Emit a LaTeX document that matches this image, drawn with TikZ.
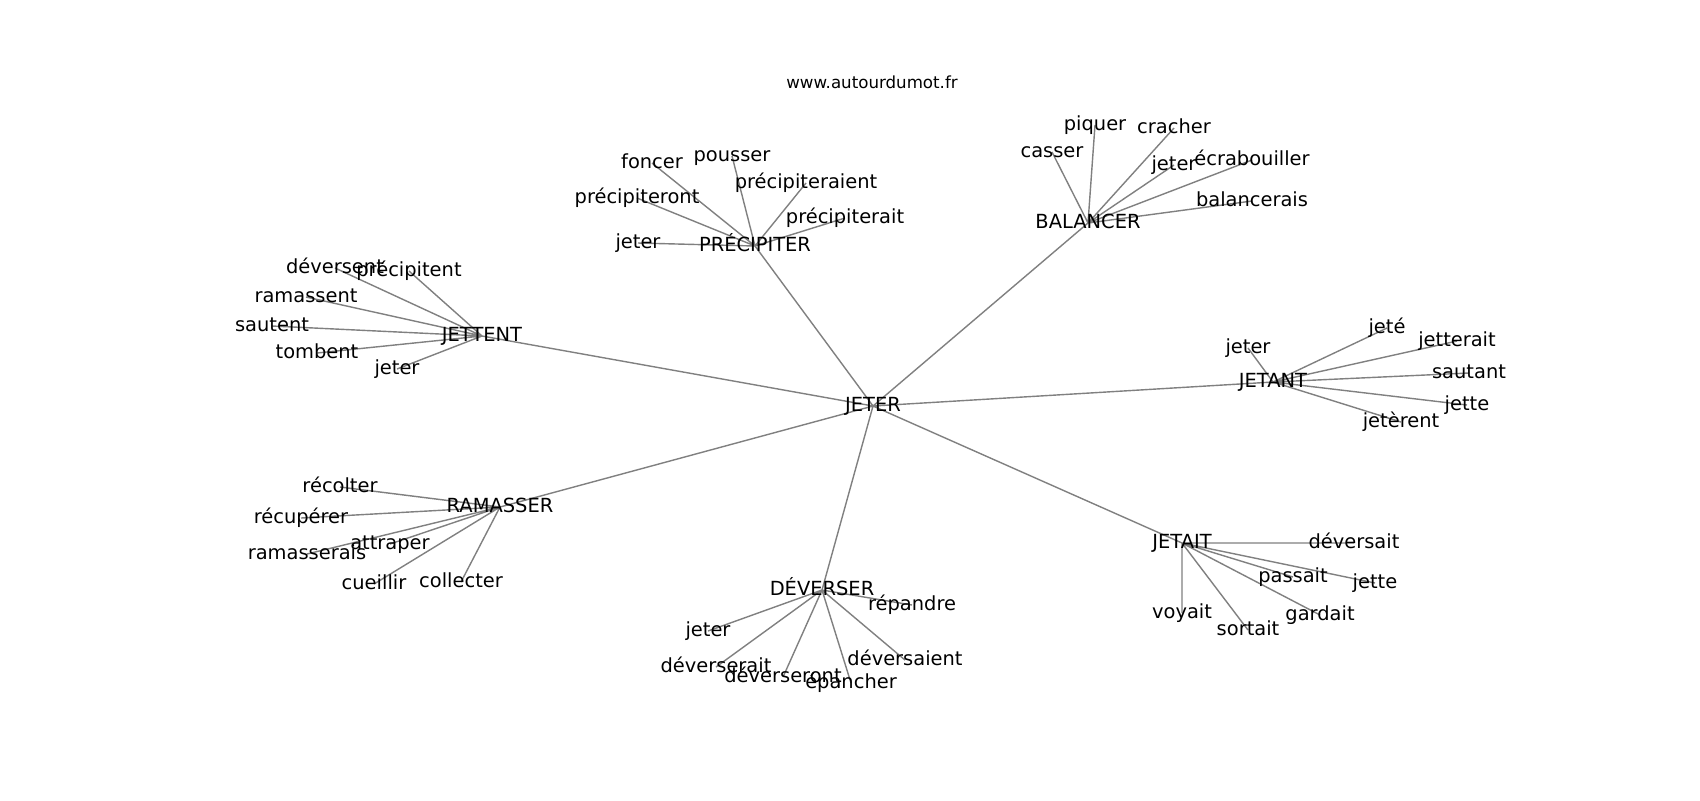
\documentclass[tikz,border=0pt]{standalone}
\usepackage{fontspec}
\setmainfont{DejaVu Sans}
\usetikzlibrary{backgrounds}
\tikzstyle{word}=[inner sep=0pt,text height=0.76em,text depth=0.24em,
                  font=\fontsize{9.72pt}{11pt}\selectfont]
\tikzstyle{edge}=[draw=gray,line width=0.7pt]

\begin{document}
\begin{tikzpicture}[x=0.5pt,y=-0.5pt]
    \useasboundingbox (0,0) rectangle (1700,800);
    \node (site) at (872,88) [anchor=base,inner sep=0pt,
          font=\fontsize{8.33pt}{10pt}\selectfont]{www.autourdumot.fr};
    % hubs
    \node (jeter)    at ( 873, 406) [word]{JETER};
    \node (jettent)  at ( 482, 336) [word]{JETTENT};
    \node (prec)     at ( 755, 246) [word]{PRÉCIPITER};
    \node (bal)      at (1088, 223) [word]{BALANCER};
    \node (jetant)   at (1273, 382) [word]{JETANT};
    \node (ramasser) at ( 500, 507) [word]{RAMASSER};
    \node (deverser) at ( 822, 590) [word]{DÉVERSER};
    \node (jetait)   at (1182, 543) [word]{JETAIT};
    % JETTENT
    \node (jt1) at (335, 268) [word]{déversent};
    \node (jt2) at (409, 271) [word]{précipitent};
    \node (jt3) at (306, 297) [word]{ramassent};
    \node (jt4) at (272, 326) [word]{sautent};
    \node (jt5) at (317, 353) [word]{tombent};
    \node (jt6) at (397, 369) [word]{jeter};
    % PRÉCIPITER
    \node (pr1) at (652, 163) [word]{foncer};
    \node (pr2) at (732, 156) [word]{pousser};
    \node (pr3) at (806, 183) [word]{précipiteraient};
    \node (pr4) at (637, 198) [word]{précipiteront};
    \node (pr5) at (845, 218) [word]{précipiterait};
    \node (pr6) at (638, 243) [word]{jeter};
    % BALANCER
    \node (ba1) at (1095, 125) [word]{piquer};
    \node (ba2) at (1174, 128) [word]{cracher};
    \node (ba3) at (1052, 152) [word]{casser};
    \node (ba4) at (1174, 165) [word]{jeter};
    \node (ba5) at (1252, 160) [word]{écrabouiller};
    \node (ba6) at (1252, 201) [word]{balancerais};
    % JETANT
    \node (ja1) at (1248, 348) [word]{jeter};
    \node (ja2) at (1387, 328) [word]{jeté};
    \node (ja3) at (1457, 341) [word]{jetterait};
    \node (ja4) at (1469, 373) [word]{sautant};
    \node (ja5) at (1467, 405) [word]{jette};
    \node (ja6) at (1401, 422) [word]{jetèrent};
    % RAMASSER
    \node (ra1) at (340, 487) [word]{récolter};
    \node (ra2) at (301, 518) [word]{récupérer};
    \node (ra3) at (307, 554) [word]{ramasserais};
    \node (ra4) at (390, 544) [word]{attraper};
    \node (ra5) at (374, 584) [word]{cueillir};
    \node (ra6) at (461, 582) [word]{collecter};
    % DÉVERSER
    \node (de1) at (912, 605) [word]{répandre};
    \node (de2) at (708, 631) [word]{jeter};
    \node (de3) at (716, 667) [word]{déverserait};
    \node (de4) at (783, 677) [word]{déverseront};
    \node (de5) at (851, 683) [word]{épancher};
    \node (de6) at (905, 660) [word]{déversaient};
    % JETAIT
    \node (ji1) at (1354, 543) [word]{déversait};
    \node (ji2) at (1293, 577) [word]{passait};
    \node (ji3) at (1375, 583) [word]{jette};
    \node (ji4) at (1182, 613) [word]{voyait};
    \node (ji5) at (1320, 615) [word]{gardait};
    \node (ji6) at (1248, 630) [word]{sortait};
    \begin{pgfonlayer}{background}
      \fill[white] (0,0) rectangle (1700,800);
      \draw[edge] (jeter.center) -- (jettent.center) (jeter.center) -- (prec.center)
        (jeter.center) -- (bal.center) (jeter.center) -- (jetant.center)
        (jeter.center) -- (ramasser.center) (jeter.center) -- (deverser.center)
        (jeter.center) -- (jetait.center);
      \draw[edge] (jettent.center) -- (jt1.center) (jettent.center) -- (jt2.center)
        (jettent.center) -- (jt3.center) (jettent.center) -- (jt4.center)
        (jettent.center) -- (jt5.center) (jettent.center) -- (jt6.center);
      \draw[edge] (prec.center) -- (pr1.center) (prec.center) -- (pr2.center)
        (prec.center) -- (pr3.center) (prec.center) -- (pr4.center)
        (prec.center) -- (pr5.center) (prec.center) -- (pr6.center);
      \draw[edge] (bal.center) -- (ba1.center) (bal.center) -- (ba2.center)
        (bal.center) -- (ba3.center) (bal.center) -- (ba4.center)
        (bal.center) -- (ba5.center) (bal.center) -- (ba6.center);
      \draw[edge] (jetant.center) -- (ja1.center) (jetant.center) -- (ja2.center)
        (jetant.center) -- (ja3.center) (jetant.center) -- (ja4.center)
        (jetant.center) -- (ja5.center) (jetant.center) -- (ja6.center);
      \draw[edge] (ramasser.center) -- (ra1.center) (ramasser.center) -- (ra2.center)
        (ramasser.center) -- (ra3.center) (ramasser.center) -- (ra4.center)
        (ramasser.center) -- (ra5.center) (ramasser.center) -- (ra6.center);
      \draw[edge] (deverser.center) -- (de1.center) (deverser.center) -- (de2.center)
        (deverser.center) -- (de3.center) (deverser.center) -- (de4.center)
        (deverser.center) -- (de5.center) (deverser.center) -- (de6.center);
      \draw[edge] (jetait.center) -- (ji1.center) (jetait.center) -- (ji2.center)
        (jetait.center) -- (ji3.center) (jetait.center) -- (ji4.center)
        (jetait.center) -- (ji5.center) (jetait.center) -- (ji6.center);
    \end{pgfonlayer}
\end{tikzpicture}
\end{document}
